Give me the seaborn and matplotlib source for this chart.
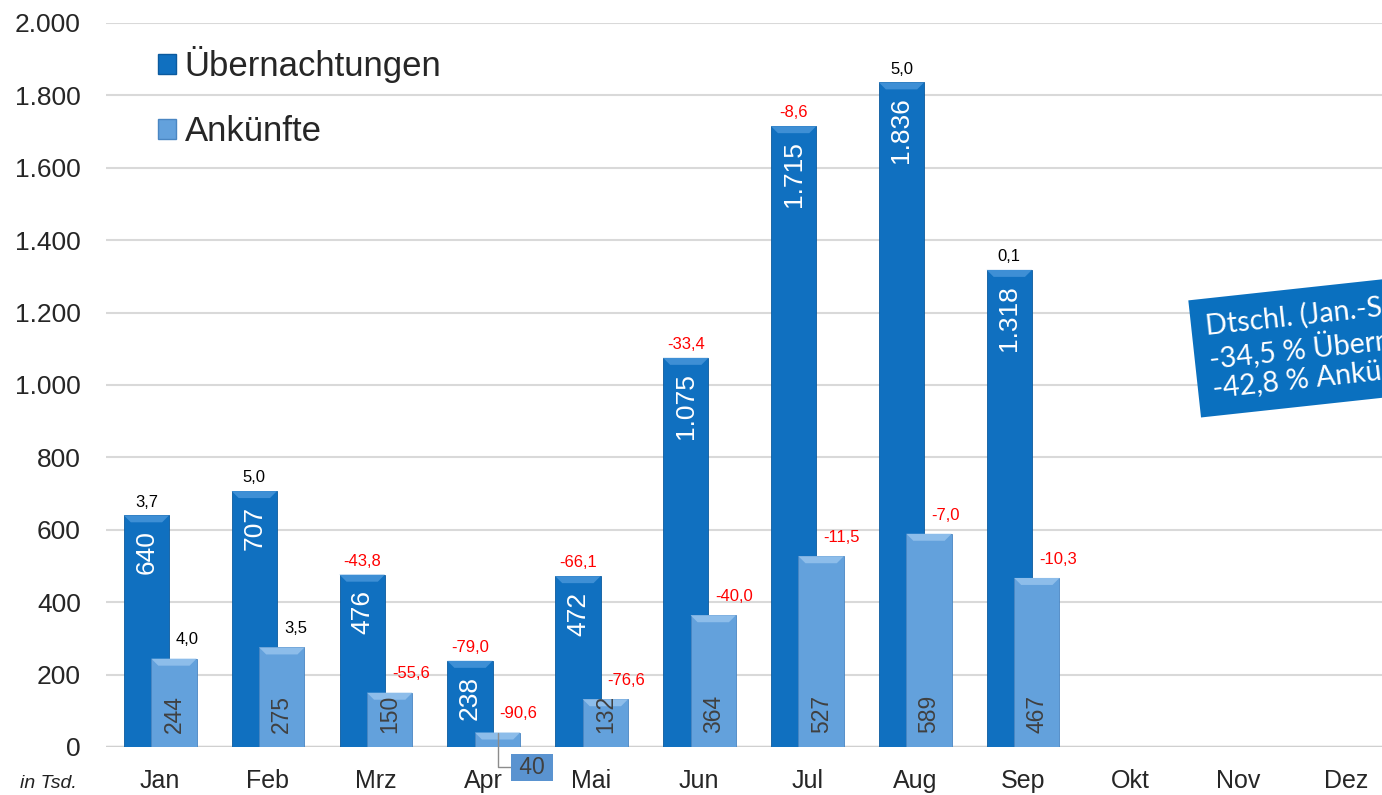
import pandas as pd
import matplotlib.pyplot as plt
import seaborn as sns
from matplotlib.patches import Patch, Polygon

# Monatswerte in Tsd.
monate = ["Jan", "Feb", "Mrz", "Apr", "Mai", "Jun", "Jul", "Aug", "Sep", "Okt", "Nov", "Dez"]
uebernachtungen = [640, 707, 476, 238, 472, 1075, 1715, 1836, 1318]
ankuenfte = [244, 275, 150, 40, 132, 364, 527, 589, 467]
# Veränderung zum Vorjahr in %
ueb_veraenderung = [3.7, 5.0, -43.8, -79.0, -66.1, -33.4, -8.6, 5.0, 0.1]
ank_veraenderung = [4.0, 3.5, -55.6, -90.6, -76.6, -40.0, -11.5, -7.0, -10.3]
y_ticks = [0, 200, 400, 600, 800, 1000, 1200, 1400, 1600, 1800, 2000]

DUNKEL = "#1070C0"
HELL = "#63A1DC"


def de_zahl(v, nachkomma=0):
    s = f"{v:,.{nachkomma}f}"
    return s.replace(",", "X").replace(".", ",").replace("X", ".")


def build_frame():
    n = len(uebernachtungen)
    df = pd.DataFrame({
        "Monat": monate[:n] * 2,
        "Wert": uebernachtungen + ankuenfte,
        "Reihe": ["Übernachtungen"] * n + ["Ankünfte"] * n,
    })
    return df


def add_bevel(ax, p, color, z, px_x, px_y):
    # helle Kante oben wie im Office-Diagramm
    x0, x1 = p.get_x(), p.get_x() + p.get_width()
    h = p.get_height()
    d, t = 7 * px_x, 7 * px_y
    ax.add_patch(Polygon([(x0, h), (x1, h), (x1 - d, h - t), (x0 + d, h - t)],
                         closed=True, fc=color, ec="none", zorder=z))


def main():
    sns.set_theme(style="white")
    plt.rcParams["font.family"] = ["Liberation Sans", "DejaVu Sans"]

    fig = plt.figure(figsize=(13.82, 7.95), dpi=100)
    ax = fig.add_axes([106 / 1382, 48 / 795, 1 - 106 / 1382, 724 / 795])

    df = build_frame()
    sns.barplot(data=df, x="Monat", y="Wert", hue="Reihe", order=monate,
                hue_order=["Übernachtungen", "Ankünfte"], dodge=False, width=0.42,
                palette=[DUNKEL, HELL], saturation=1, legend=False, ax=ax, zorder=3)

    ax.set_xlim(-0.5, 11.33)
    ax.set_ylim(0, 2000)
    px_x = 11.83 / (1382 - 106)
    px_y = 2000 / 724

    dunkel_bars, hell_bars = ax.containers[0], ax.containers[1]
    for p in dunkel_bars:
        p.set_x(p.get_x() - 0.125)
        p.set_edgecolor("#0B5A9E")
        p.set_linewidth(0.6)
        add_bevel(ax, p, "#3E8FD5", 3.5, px_x, px_y)
    for p in hell_bars:
        p.set_x(p.get_x() + 0.13)
        p.set_edgecolor("#4A86C2")
        p.set_linewidth(0.6)
        p.set_zorder(4)
        if p.get_height() > 20:
            add_bevel(ax, p, "#8DBDEA", 4.5, px_x, px_y)

    # Werte in den Balken und Veränderungen darüber
    for p, ver in zip(dunkel_bars, ueb_veraenderung):
        cx = p.get_x() + p.get_width() / 2
        h = p.get_height()
        ax.annotate(de_zahl(h), (cx, h), xytext=(0, -11), textcoords="offset points",
                    rotation=90, ha="center", va="top", color="white", fontsize=19, zorder=6)
        ax.annotate(de_zahl(ver, 1), (cx, h), xytext=(0, 9.5), textcoords="offset points",
                    ha="center", va="center", fontsize=12, zorder=6,
                    color="red" if ver < 0 else "black")

    for p, ver in zip(hell_bars, ank_veraenderung):
        cx = p.get_x() + p.get_width() / 2
        h = p.get_height()
        if h >= 100:
            ax.annotate(de_zahl(h), (cx, 0), xytext=(0, 10), textcoords="offset points",
                        rotation=90, ha="center", va="bottom", color="#404040",
                        fontsize=16.5, zorder=6)
        else:
            ax.annotate(" " + de_zahl(h) + " ", (cx, h), xytext=(25, -25), textcoords="offset points",
                        ha="center", va="center", color="#404040", fontsize=16.5,
                        bbox=dict(boxstyle="square,pad=0.08", fc="#5A93D0", ec="none"),
                        arrowprops=dict(arrowstyle="-", color="#8C8C8C", lw=1,
                                        shrinkA=0, shrinkB=0,
                                        connectionstyle="angle,angleA=0,angleB=90"),
                        annotation_clip=False, zorder=6)
        ax.annotate(de_zahl(ver, 1), (cx, h), xytext=(1.5, 13.5), textcoords="offset points",
                    ha="left", va="center", fontsize=12, zorder=6,
                    color="red" if ver < 0 else "black")

    ax.set_yticks(y_ticks)
    ax.set_yticklabels([de_zahl(v) for v in y_ticks], fontsize=19)
    ax.tick_params(axis="y", length=0, pad=18)
    ax.tick_params(axis="x", length=0, pad=15.5, labelsize=18)
    ax.set_xlabel("")
    ax.set_ylabel("")
    ax.yaxis.grid(True, color="#D9D9D9", lw=1.5, zorder=0)
    ax.set_axisbelow(True)
    for s in ax.spines.values():
        s.set_visible(False)
    ax.axhline(0, color="#D0D0D0", lw=2.5, zorder=2)

    handles = [Patch(facecolor=DUNKEL, edgecolor="#0B5A9E", label="Übernachtungen"),
               Patch(facecolor=HELL, edgecolor="#4A86C2", label="Ankünfte")]
    fig.legend(handles=handles, loc="upper left", bbox_to_anchor=(158 / 1382, 1 - 46 / 795),
               frameon=False, fontsize=25, handlelength=0.52, handleheight=0.52,
               handletextpad=0.25, labelspacing=0.93, borderpad=0, borderaxespad=0)

    fig.text(48 / 1382, 1 - 783 / 795, "in Tsd.", style="italic", fontsize=14,
             ha="center", va="center", color="#222222")

    fig.text(1204 / 1382, 1 - 313 / 795,
             "Dtschl. (Jan.-Sep.)\n-34,5 % Übernachtungen\n-42,8 % Ankünfte",
             rotation=6.2, rotation_mode="anchor", ha="left", va="top",
             color="white", fontsize=20.5, family=["Lato", "DejaVu Sans"], linespacing=1.1,
             bbox=dict(boxstyle="square,pad=0.5", fc="#0A70BF", ec="none"))

    fig.savefig("out.png", dpi=100)


if __name__ == "__main__":
    main()
